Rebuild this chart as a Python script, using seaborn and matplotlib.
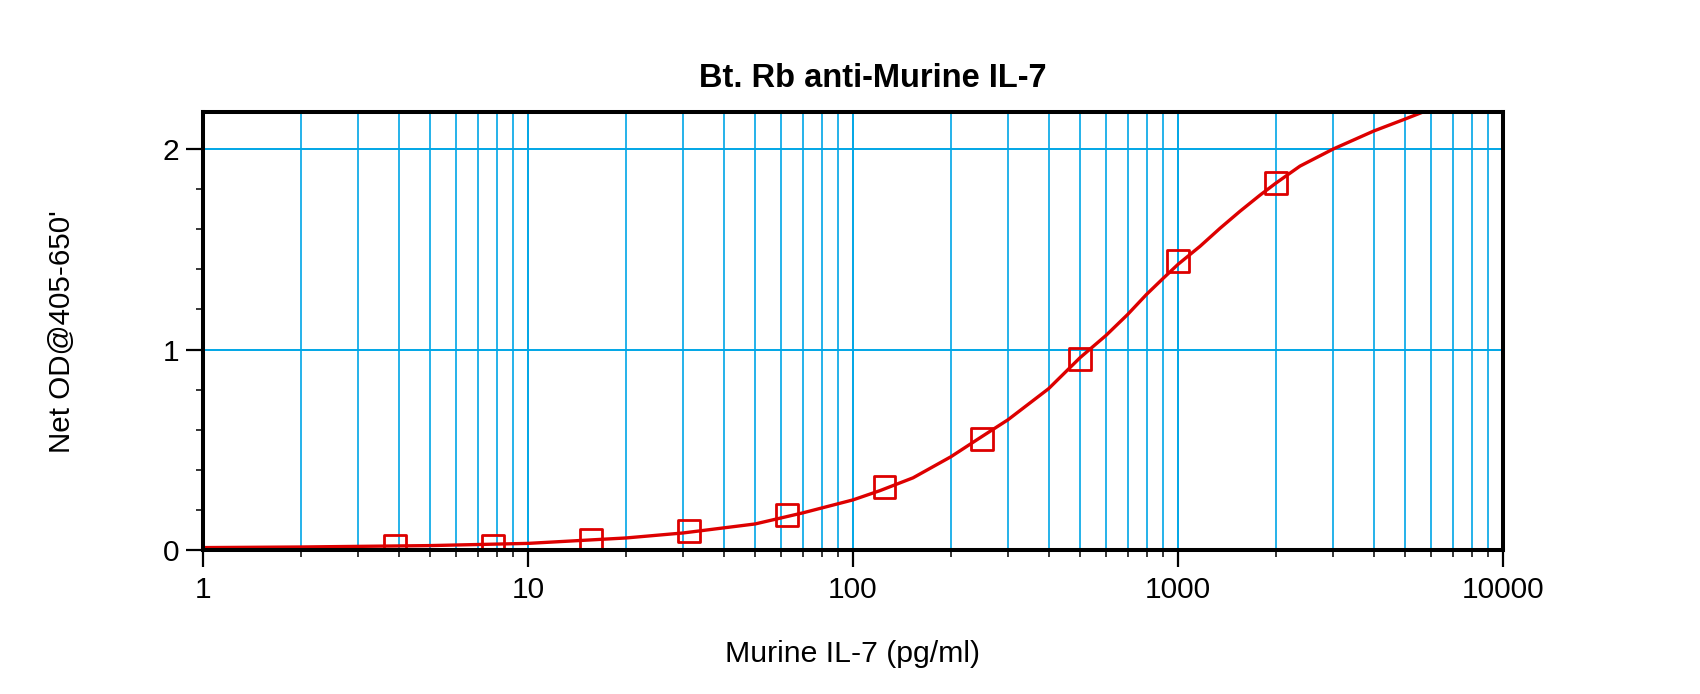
import numpy as np
import pandas as pd
import matplotlib
matplotlib.use("Agg")
import matplotlib.pyplot as plt
from matplotlib.ticker import LogLocator, NullFormatter, MultipleLocator
import seaborn as sns

# standards (pg/ml) and net OD
conc = [3.9, 7.8, 15.6, 31.25, 62.5, 125, 250, 500, 1000, 2000]
od = [0.02, 0.02, 0.05, 0.095, 0.175, 0.315, 0.555, 0.955, 1.44, 1.83]

# fitted curve, points
fit_x = [1, 2, 5, 10, 20, 30, 50, 70, 100, 121, 153, 200, 246, 300, 400,
         500, 600, 700, 800, 900, 1000, 1169, 1347, 1552, 1787, 2000, 2373,
         3000, 4000, 5000, 5675]
fit_y = [0.012, 0.015, 0.022, 0.033, 0.06, 0.085, 0.13, 0.185, 0.25, 0.296,
         0.36, 0.465, 0.56, 0.65, 0.805, 0.96, 1.07, 1.175, 1.275, 1.355,
         1.425, 1.515, 1.605, 1.69, 1.77, 1.83, 1.915, 2.0, 2.09, 2.15, 2.185]

x_ticks = [1, 10, 100, 1000, 10000]
x_tick_labels = ["1", "10", "100", "1000", "10000"]
y_ticks = [0, 1, 2]

title = "Bt. Rb anti-Murine IL-7"
x_label = "Murine IL-7 (pg/ml)"
y_label = "Net OD@405-650'"

red = "#dd0000"
blue = "#00a6e6"

sns.set_theme(style="white")
plt.rcParams["font.family"] = ["Liberation Sans", "DejaVu Sans"]
plt.rcParams["text.color"] = "black"
plt.rcParams["xtick.color"] = "black"
plt.rcParams["ytick.color"] = "black"

W, H = 1700, 694
fig = plt.figure(figsize=(W / 100, H / 100), dpi=100)
ax = fig.add_axes([203 / W, 1 - 550 / H, 1300 / W, 438 / H])

pts = pd.DataFrame({"conc": conc, "od": od})
curve = pd.DataFrame({"conc": fit_x, "od": fit_y})

sns.lineplot(data=curve, x="conc", y="od", ax=ax, color=red, lw=2.4,
             sort=False, estimator=None, zorder=3)
sns.scatterplot(data=pts, x="conc", y="od", ax=ax, marker="s", s=250,
                facecolor="none", edgecolor=red, linewidth=2.0, zorder=4)

ax.set_xscale("log")
ax.set_xlim(1, 10000)
ax.set_ylim(0, 2.185)

ax.set_xticks(x_ticks)
ax.set_xticklabels(x_tick_labels)
ax.xaxis.set_minor_locator(LogLocator(base=10, subs=np.arange(2, 10)))
ax.xaxis.set_minor_formatter(NullFormatter())
ax.set_yticks(y_ticks)
ax.set_yticklabels([str(v) for v in y_ticks])
ax.yaxis.set_minor_locator(MultipleLocator(0.2))

ax.tick_params(which="major", direction="out", length=12, width=1.6,
               color="black", labelcolor="black", labelsize=21.5,
               bottom=True, left=True)
ax.tick_params(axis="x", which="major", pad=7)
ax.tick_params(axis="y", which="major", pad=5)
ax.tick_params(which="minor", direction="out", length=5, width=1.1,
               color="black", bottom=True, left=True)

ax.grid(which="major", axis="both", color=blue, lw=1.4, zorder=0)
ax.grid(which="minor", axis="x", color=blue, lw=1.2, zorder=0)
ax.set_axisbelow(True)

for s in ax.spines.values():
    s.set_color("black")
    s.set_linewidth(2.9)
    s.set_zorder(5)

ax.set_xlabel("")
ax.set_ylabel("")
fig.text(873 / W, 1 - 87 / H, title, ha="center", va="baseline",
         fontsize=23.5, fontweight="bold", color="black")
fig.text(853 / W, 1 - 662 / H, x_label, ha="center", va="baseline",
         fontsize=21.8, color="black")
fig.text(62 / W, 1 - 332 / H, y_label, ha="center", va="center",
         rotation=90, fontsize=21.3, color="black")

fig.savefig("out.png", dpi=100, facecolor="white")
